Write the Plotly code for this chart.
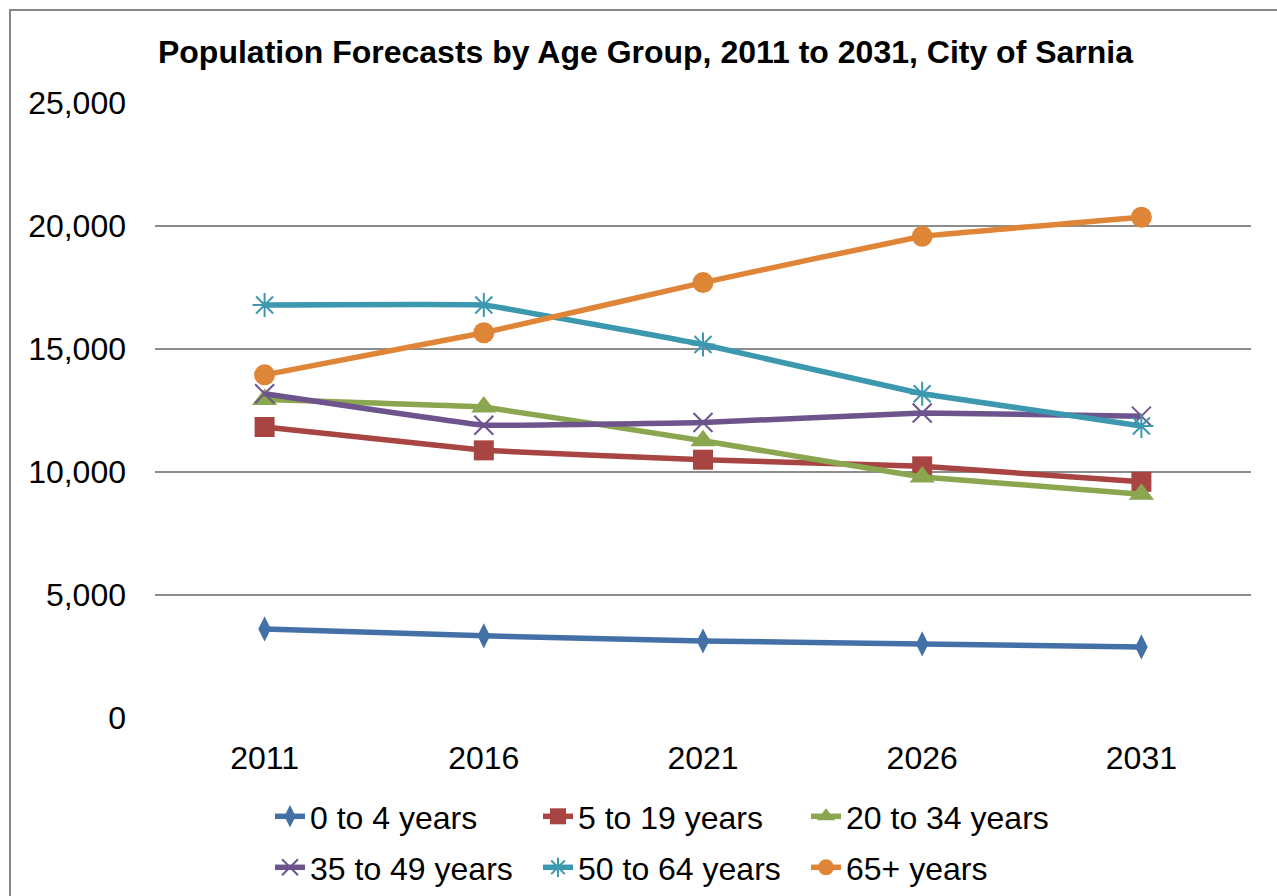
import plotly.graph_objects as go

# Forecast years (category axis)
years = ["2011", "2016", "2021", "2026", "2031"]

# Population by age group
age_0_4 = [3620, 3340, 3130, 3010, 2890]
age_5_19 = [11830, 10880, 10500, 10230, 9600]
age_20_34 = [12950, 12640, 11270, 9800, 9100]
age_35_49 = [13180, 11900, 12010, 12400, 12270]
age_50_64 = [16790, 16790, 15180, 13180, 11870]
age_65_plus = [13950, 15660, 17700, 19580, 20360]

series_names = ["0 to 4 years", "5 to 19 years", "20 to 34 years",
                "35 to 49 years", "50 to 64 years", "65+ years"]
series_values = [age_0_4, age_5_19, age_20_34, age_35_49, age_50_64, age_65_plus]
colors = ["#4470A8", "#A84442", "#8AA64F", "#6E548D", "#3C98AF", "#DF8538"]
symbols = ["diamond-tall", "square", "triangle-up", "x-thin-open", "asterisk-open", "circle"]
sizes = [18, 20, 22, 19, 20, 21]
legend_ids = ["legend", "legend", "legend", "legend2", "legend2", "legend2"]

FONT = "Liberation Sans, Arial, sans-serif"
W, H = 1277, 896
L, R, T, B = 155, 26, 103, 178

fig = go.Figure()
for name, vals, col, sym, sz, lg in zip(series_names, series_values, colors,
                                        symbols, sizes, legend_ids):
    open_marker = sym.endswith("open")
    fig.add_trace(go.Scatter(
        x=years, y=vals, name=name, mode="lines+markers", legend=lg,
        line=dict(color=col, width=5.5, shape="spline", smoothing=0.15),
        marker=dict(symbol=sym, size=sz, color=col,
                    line=dict(color=col, width=2 if open_marker else 0)),
    ))

# Outer chart frame
pw = W - L - R
ph = H - T - B
fig.add_shape(type="rect", xref="paper", yref="paper",
              x0=(10 - L) / pw, x1=(W + 20 - L) / pw,
              y0=(H - B - (H + 20)) / ph, y1=(H - B - 10) / ph,
              line=dict(color="#868686", width=2), fillcolor="rgba(0,0,0,0)",
              layer="below")

legend_common = dict(orientation="h", xref="container", yref="container",
                     x=270 / W, xanchor="left", yanchor="top",
                     font=dict(size=32), entrywidth=223, entrywidthmode="pixels",
                     itemwidth=30, bgcolor="rgba(0,0,0,0)")

fig.update_layout(
    width=W, height=H,
    margin=dict(l=L, r=R, t=T, b=B),
    paper_bgcolor="white", plot_bgcolor="white",
    font=dict(family=FONT, size=32, color="black"),
    title=dict(text="<b>Population Forecasts by Age Group, 2011 to 2031, City of Sarnia</b>",
               x=645.5 / W, xref="container", xanchor="center",
               y=1 - 52 / H, yref="container", yanchor="middle",
               font=dict(family=FONT, size=32, color="black")),
    xaxis=dict(type="category", range=[-0.5, 4.5], showgrid=False, zeroline=False,
               showline=False, ticks="", ticklabelstandoff=18, tickfont=dict(size=32)),
    yaxis=dict(range=[0, 25000], dtick=5000, tickformat=",", showgrid=True,
               gridcolor="#8C8C8C", gridwidth=2, zeroline=False, showline=False,
               ticks="", ticklabelstandoff=28, tickfont=dict(size=32)),
    legend=dict(legend_common, y=1 - 789 / H),
    legend2=dict(legend_common, y=1 - 840 / H),
    showlegend=True,
)

fig.write_html("out.html")
